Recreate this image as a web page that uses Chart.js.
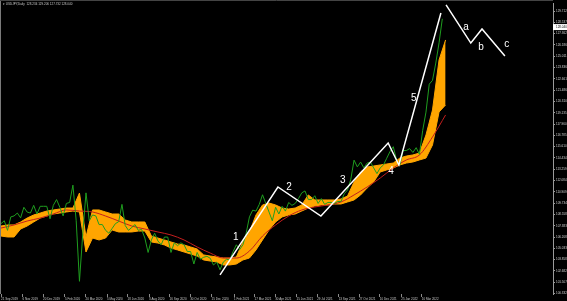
<!DOCTYPE html>
<html><head><meta charset="utf-8">
<script src="https://cdn.jsdelivr.net/npm/chart.js@4.4.0/dist/chart.umd.min.js"></script>
<style>html,body{margin:0;padding:0;background:#000;overflow:hidden}#wrap{width:567px;height:301px;position:relative}canvas{display:block}</style>
</head><body><div id="wrap"><canvas id="c" width="567" height="301" style="width:567px;height:301px"></canvas></div>
<script>
// ---- data ----
const startDate = '2019-09-21';
const closeStepDays = 7;
const weeklyClose = [
107.6,107.9,106.9,108.3,108.4,108.7,108.2,109.3,108.8,108.7,
109.5,108.6,109.4,109.4,109.4,108.1,109.5,110.1,109.3,108.4,
109.7,109.8,111.6,107.9,101.6,106.5,110.8,107.9,108.5,108.4,
107.5,107.5,106.9,106.6,107.1,107.6,107.8,109.6,107.4,106.9,
107.2,107.5,106.9,107.0,106.1,104.6,105.9,106.6,105.8,105.4,
106.2,106.2,104.6,105.6,105.3,105.6,105.4,104.7,104.7,103.4,
104.6,103.9,104.1,104.2,104.0,103.3,103.6,102.8,103.6,103.9,
103.8,104.7,105.4,104.9,105.4,106.6,108.3,109.0,108.9,109.6,
110.6,109.7,108.8,107.9,109.3,108.6,109.4,108.9,109.8,109.5,
109.7,110.2,110.8,111.0,110.1,110.1,110.5,109.7,110.2,109.6,
109.8,109.8,109.7,109.9,109.9,110.7,111.1,112.2,114.2,113.5,
114.0,113.4,113.9,114.0,113.4,112.8,113.4,113.7,114.4,115.1,
115.6,114.2,113.7,115.2,115.2,115.4,115.0,115.5,114.8,117.3,
119.2,122.1,122.5,124.3,126.4,128.9];
const cloudStepDays = 14;
const cloudUpper = [
107.35,107.46,107.46,107.77,108.18,108.50,108.70,108.91,109.02,109.12,
109.22,109.22,110.78,106.21,109.02,109.02,108.81,108.60,108.60,107.98,
107.77,107.77,107.77,106.31,106.10,105.90,105.69,105.48,105.38,105.17,
104.96,104.34,104.23,104.13,104.02,104.02,104.13,105.69,106.73,108.50,
109.54,109.74,109.54,109.22,109.12,109.22,109.54,110.58,110.06,110.06,
110.06,110.06,110.16,110.47,111.93,112.97,113.49,113.59,113.70,113.80,
113.90,114.42,114.63,114.74,114.94,116.82,119.42,124.62,126.70];
const cloudLower = [
106.31,106.21,106.21,107.04,107.35,107.77,108.18,108.39,108.60,108.70,
108.81,108.91,108.81,104.65,106.10,105.90,106.10,106.94,106.73,106.73,
106.73,106.83,106.83,105.69,105.58,105.38,105.06,104.86,104.65,104.44,
104.23,103.82,103.71,103.61,103.30,103.30,103.40,103.82,104.02,104.86,
105.90,106.94,107.77,108.29,108.50,108.60,108.91,109.22,109.43,109.54,
109.54,109.64,109.64,109.85,110.06,110.58,111.30,111.93,112.97,113.18,
113.38,113.70,113.90,114.01,114.22,114.42,115.78,119.21,119.94];
const maStepDays = 28;
const maValues = [
107.14,107.46,107.87,108.18,108.60,109.02,108.91,108.81,108.39,107.87,
107.35,107.04,106.73,106.42,105.90,105.17,104.54,104.02,104.02,104.75,
106.31,107.46,108.39,109.02,109.33,109.54,109.85,110.58,111.41,112.34,
113.38,114.22,114.74,116.61,118.90];
const impulseDates = ['2021-01-02','2021-05-06','2021-08-06','2021-12-28','2022-01-20','2022-04-20'];
const impulsePrices = [102.26,111.41,108.39,115.98,113.70,129.50];
const correctionDates = ['2022-05-01','2022-06-23','2022-07-17','2022-09-04'];
const correctionPrices = [130.34,126.38,127.84,125.03];
const waveLabels = ['1','2','3','4','5','a','b','c'];
const waveLabelDates = ['2021-02-05','2021-05-30','2021-09-22','2022-01-03','2022-02-21','2022-06-13','2022-07-15','2022-09-08'];
const waveLabelPrices = [106.21,111.41,112.14,113.07,120.66,128.05,125.97,126.28];
const dateTickDates = ['2019-09-21','2019-11-06','2019-12-20','2020-02-05','2020-03-20','2020-05-05','2020-06-18','2020-08-03','2020-09-16','2020-10-30','2020-12-15','2021-02-01','2021-03-17','2021-04-30','2021-06-15','2021-07-29','2021-09-13','2021-10-27','2021-12-10','2022-01-25','2022-03-10'];
const dateTickLabels = ['21 Sep 2019','6 Nov 2019','20 Dec 2019','5 Feb 2020','20 Mar 2020','5 May 2020','18 Jun 2020','3 Aug 2020','16 Sep 2020','30 Oct 2020','15 Dec 2020','1 Feb 2021','17 Mar 2021','30 Apr 2021','15 Jun 2021','29 Jul 2021','13 Sep 2021','27 Oct 2021','10 Dec 2021','25 Jan 2022','10 Mar 2022'];
const priceTicks = [129.712,128.537,127.362,126.186,125.011,123.836,122.661,121.486,120.310,119.135,117.960,116.785,115.610,114.434,113.259,112.084,110.909,109.734,108.558,107.383,106.208,105.033,103.858,102.682,101.507,100.332];
const priceMin = 100.28, priceMax = 130.544;
const axisEndDate = '2022-12-16';
const titleText = '\u25BE USDJPY,Daily  128.234 129.206 127.732 128.040';
const lastPrice = 128.040;

// ---- helpers ----
const t0 = Date.parse(startDate + 'T00:00:00Z');
const dayOf = s => Math.round((Date.parse(s + 'T00:00:00Z') - t0) / 86400000);
const series = (arr, step) => arr.map((v, i) => ({x: i * step, y: v}));
const pts = (ds, ps) => ds.map((d, i) => ({x: dayOf(d), y: ps[i]}));
const tickDays = dateTickDates.map(dayOf);

const overlay = {
  id: 'overlay',
  afterDraw(chart) {
    const {ctx, chartArea: a, scales: {x, y}} = chart;
    ctx.save();
    ctx.strokeStyle = '#7a7a7a'; ctx.lineWidth = 1;
    ctx.beginPath(); ctx.moveTo(0.5, 0); ctx.lineTo(0.5, a.bottom); ctx.stroke();
    ctx.strokeStyle = '#444';
    ctx.beginPath(); ctx.moveTo(0, 0.5); ctx.lineTo(a.right, 0.5); ctx.stroke();
    ctx.fillStyle = '#ffffff';
    ctx.font = '10px "Liberation Sans", Arial, sans-serif';
    ctx.textAlign = 'center'; ctx.textBaseline = 'middle';
    waveLabels.forEach((t, i) => {
      ctx.fillText(t, x.getPixelForValue(dayOf(waveLabelDates[i])), y.getPixelForValue(waveLabelPrices[i]));
    });
    ctx.fillStyle = '#c8c8c8';
    ctx.font = '3px "Liberation Sans", Arial, sans-serif';
    ctx.textAlign = 'left'; ctx.textBaseline = 'middle';
    ctx.fillText(titleText, 3, 4.5);
    const py = y.getPixelForValue(lastPrice);
    ctx.fillStyle = '#ffffff';
    ctx.fillRect(a.right, py - 3, chart.width - a.right, 6);
    ctx.fillStyle = '#000';
    ctx.fillText(lastPrice.toFixed(3), a.right + 3, py);
    ctx.restore();
  }
};

new Chart(document.getElementById('c'), {
  type: 'line',
  data: {
    datasets: [
      {data: pts(impulseDates, impulsePrices), borderColor: '#ffffff', borderWidth: 1.5, pointRadius: 0, tension: 0},
      {data: pts(correctionDates, correctionPrices), borderColor: '#ffffff', borderWidth: 1.5, pointRadius: 0, tension: 0},
      {data: series(weeklyClose, closeStepDays), borderColor: '#1f9e1f', borderWidth: 1, pointRadius: 0, tension: 0},
      {data: series(maValues, maStepDays), borderColor: '#c41e1e', borderWidth: 1, pointRadius: 0, cubicInterpolationMode: 'monotone'},
      {data: series(cloudUpper, cloudStepDays), borderColor: '#ffa500', backgroundColor: '#ffa500', borderWidth: 1, pointRadius: 0, fill: '+1'},
      {data: series(cloudLower, cloudStepDays), borderColor: '#ffa500', borderWidth: 1, pointRadius: 0, fill: false}
    ]
  },
  options: {
    responsive: false,
    maintainAspectRatio: false,
    animation: false,
    devicePixelRatio: 1,
    layout: {padding: {left: 1, top: 3, right: 0, bottom: 0}},
    plugins: {legend: {display: false}, tooltip: {enabled: false}},
    scales: {
      x: {
        type: 'linear', min: 0, max: dayOf(axisEndDate),
        afterBuildTicks: s => { s.ticks = tickDays.map(v => ({value: v})); },
        afterFit: s => { s.height = 7; },
        ticks: {
          autoSkip: false, maxRotation: 0, align: 'start', padding: 0,
          color: '#c8c8c8', font: {size: 3, family: '"Liberation Sans", Arial, sans-serif'},
          callback: v => dateTickLabels[tickDays.indexOf(v)] || ''
        },
        grid: {drawOnChartArea: false, drawTicks: true, tickLength: 3, color: '#8a8a8a'},
        border: {display: false}
      },
      y: {
        position: 'right', min: priceMin, max: priceMax,
        afterBuildTicks: s => { s.ticks = priceTicks.map(v => ({value: v})); },
        afterFit: s => { s.width = 14; },
        ticks: {
          autoSkip: false, padding: 1,
          color: '#d0d0d0', font: {size: 3, family: '"Liberation Sans", Arial, sans-serif'},
          callback: v => Number(v).toFixed(3)
        },
        grid: {drawOnChartArea: false, drawTicks: true, tickLength: 2, color: '#9a9a9a'},
        border: {display: true, color: '#9a9a9a', width: 1}
      }
    }
  },
  plugins: [overlay]
});
</script>
</body></html>
